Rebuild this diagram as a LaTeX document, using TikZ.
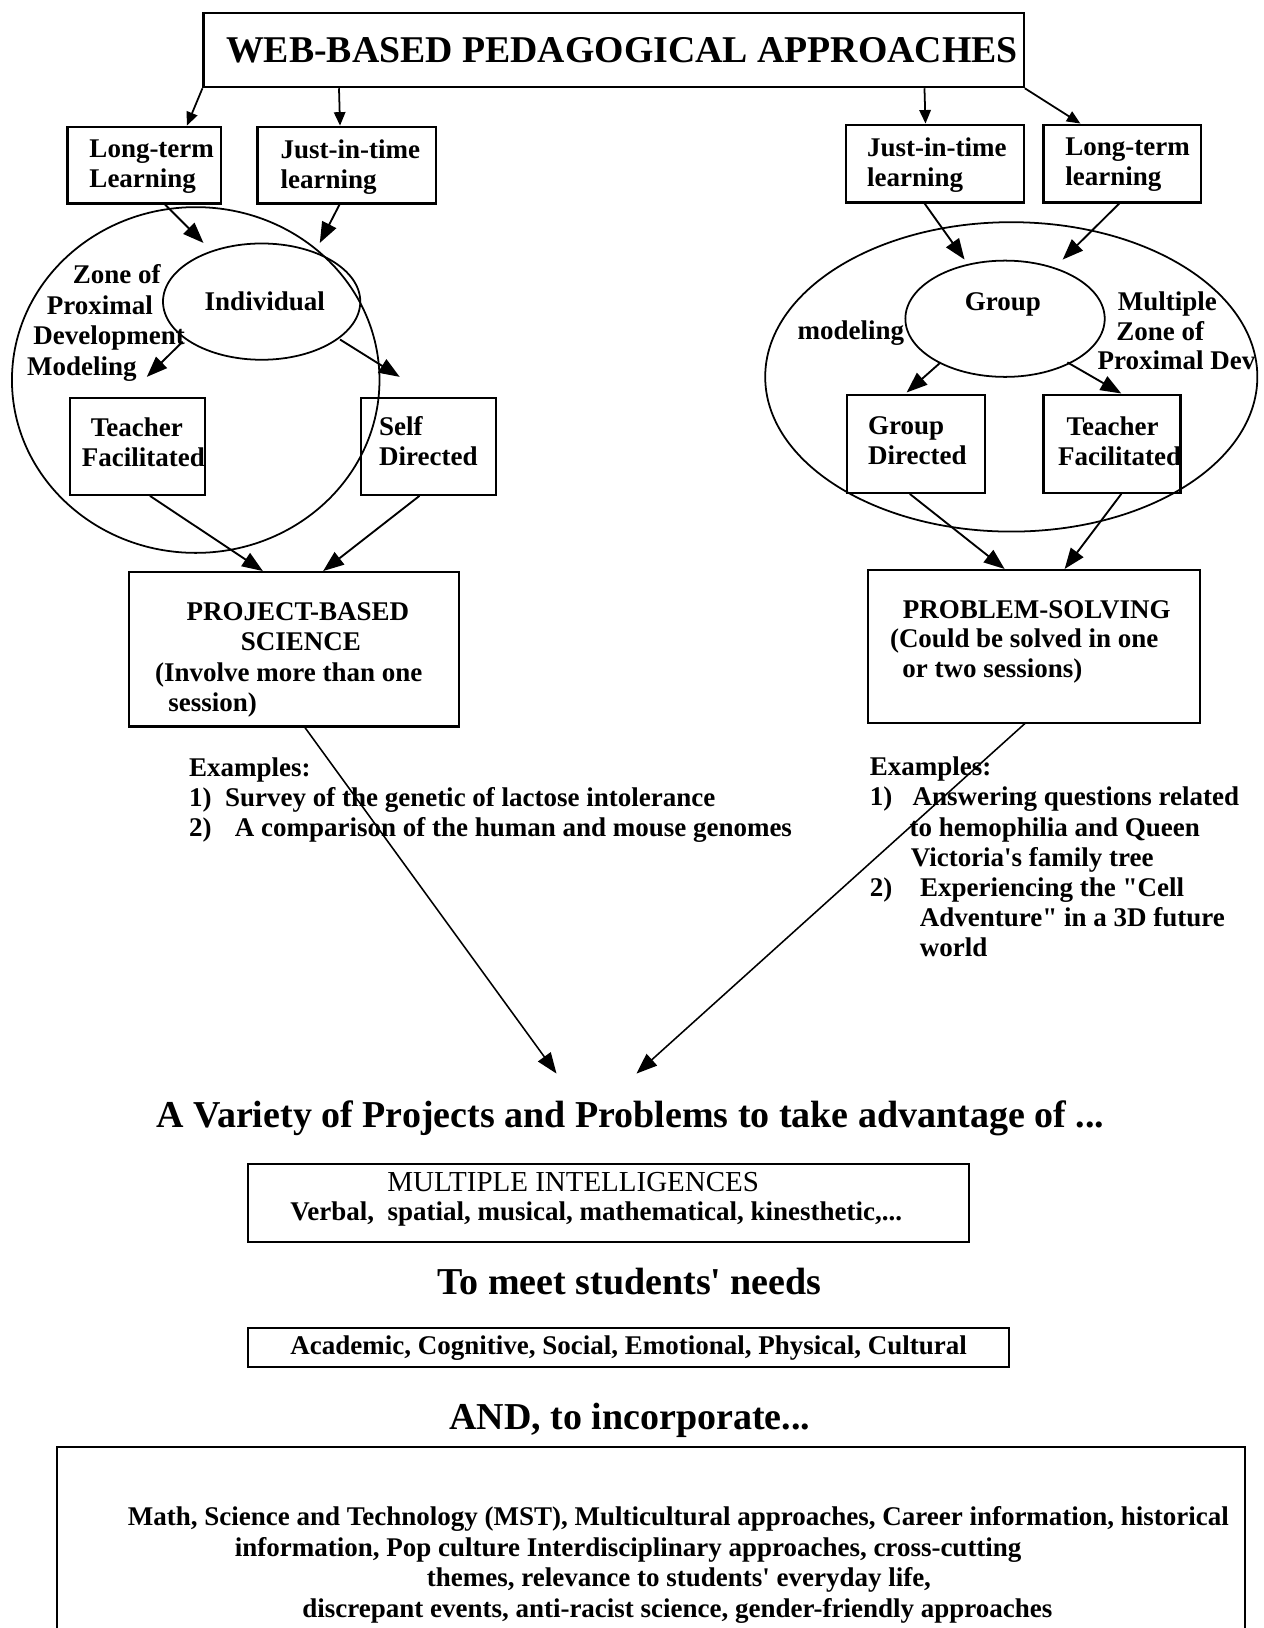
\documentclass[tikz,border=0pt]{standalone}
\usepackage{fontspec}
\setmainfont{Liberation Serif}
\usetikzlibrary{arrows.meta,shapes.geometric,calc}
\newcommand{\sq}{\textquotesingle}
\newcommand{\dq}{\textquotedbl}
\begin{document}
\begin{tikzpicture}[x=1pt,y=-1pt,
  box/.style={draw, line width=2pt, rectangle, inner sep=0pt},
  oval/.style={draw, line width=1.7pt, ellipse, inner sep=0pt},
  body/.style={font=\fontsize{26}{29.3}\selectfont\bfseries},
  txt/.style={body, inner sep=0pt, anchor=north west, align=left},
  head/.style={font=\fontsize{36.6}{40}\selectfont\bfseries, inner sep=0pt},
  arr/.style={line width=1.8pt, -{Triangle[length=20pt,width=15pt]}},
  tarr/.style={line width=1.7pt, -{Triangle[length=13pt,width=11pt]}}]
\useasboundingbox (0,0) rectangle (1217,1568);
\fill[white] (0,0) rectangle (1217,1568);

% title
\node[box, minimum width=790pt, minimum height=71.5pt,
      font=\fontsize{36.4}{40}\selectfont\bfseries] (title) at (591,48.25)
      {\hspace*{16pt}WEB-BASED PEDAGOGICAL APPROACHES};

% top boxes
\node[box, minimum width=148pt, minimum height=74pt] (ltL) at (139,159) {};
\node[txt] (ltLt) at (86,134) {Long-term\\Learning};
\node[box, minimum width=172pt, minimum height=74pt] (jitL) at (334,159) {};
\node[txt] (jitLt) at (270,134) {Just-in-time\\learning};
\node[box, minimum width=171pt, minimum height=75pt] (jitR) at (900.5,157.5) {};
\node[txt] (jitRt) at (835,132.5) {Just-in-time\\learning};
\node[box, minimum width=152pt, minimum height=75pt] (ltR) at (1081,157.5) {};
\node[txt] (ltRt) at (1026,132.5) {Long-term\\learning};

% left cluster
\node[oval, minimum width=354pt, minimum height=333pt] (bigL) at (188.5,366) {};
\node[oval, body, minimum width=190pt, minimum height=112pt] (ind) at (252,290.5) {\hspace*{6pt}Individual};
\node[txt] (zone) at (26,255) {\hspace*{44pt}Zone of\\\hspace*{19pt}Proximal\\\hspace*{6pt}Development\\Modeling};
\node[box, minimum width=130pt, minimum height=93.6pt] (tfL) at (132.4,429.8) {};
\node[txt] (tfLt) at (78.7,402) {\hspace*{8.6pt}Teacher\\Facilitated};
\node[box, minimum width=130pt, minimum height=93.6pt] (sdL) at (413,429.8) {};
\node[txt] (sdLt) at (365,401) {Self\\Directed};
\node[box, minimum width=317.6pt, minimum height=148.7pt] (pbs) at (283.2,625.35) {};
\node[txt] (pbst) at (149.2,580) {\hspace*{30.4pt}PROJECT-BASED\\\hspace*{82.6pt}SCIENCE\\(Involve more than one\\\hspace*{12.8pt}session)};
\node[txt, font=\fontsize{26}{28.7}\selectfont\bfseries] (exL) at (182,729.8)
  {Examples:\\\makebox[34.6pt][l]{1)}Survey of the genetic of lactose intolerance\\\makebox[44pt][l]{2)}A comparison of the human and mouse genomes};

% right cluster
\node[oval, minimum width=474pt, minimum height=298pt] (bigR) at (974,363) {};
\node[oval, minimum width=192pt, minimum height=112pt] (grp) at (968,307) {};
\node[body, inner sep=0pt] (grpt) at (966,293) {Group};
\node[txt] (modt) at (768,309) {modeling};
\node[txt, font=\fontsize{26}{28.75}\selectfont\bfseries] (multt) at (1057,280.5) {\hspace*{19.5pt}Multiple\\\hspace*{18pt}Zone of\\Proximal Dev};
\node[box, minimum width=133.5pt, minimum height=94.7pt] (gdR) at (882.25,427.35) {};
\node[txt] (gdRt) at (836,400.8) {Group\\Directed};
\node[box, minimum width=132pt, minimum height=94.7pt] (tfR) at (1071,427.35) {};
\node[txt] (tfRt) at (1019,400.8) {\hspace*{8pt}Teacher\\Facilitated};
\node[box, minimum width=320pt, minimum height=147pt] (ps) at (996,622.5) {};
\node[txt, font=\fontsize{26}{28.5}\selectfont\bfseries] (pst) at (857,578) {\hspace*{12.5pt}PROBLEM-SOLVING\\(Could be solved in one\\\hspace*{12pt}or two sessions)};
\node[txt, font=\fontsize{26}{29}\selectfont\bfseries] (exR) at (837.6,729)
  {Examples:\\\makebox[41.2pt][l]{1)}Answering questions related\\\hspace*{38.4pt}to hemophilia and Queen\\\hspace*{39.4pt}Victoria\sq s family tree\\\makebox[48.4pt][l]{2)}Experiencing the \dq Cell\\\hspace*{48.2pt}Adventure\dq\ in a 3D future\\\hspace*{48.2pt}world};

% lower part
\node[head] (variety) at (607,1077.5) {A Variety of Projects and Problems to take advantage of ...};
\node[box, minimum width=694pt, minimum height=75pt] (mi) at (586,1159) {};
\node[font=\fontsize{27.9}{30}\selectfont, inner sep=0pt, anchor=west] (mit) at (373,1138.5) {MULTIPLE INTELLIGENCES};
\node[txt] (mil) at (279.5,1157.7) {Verbal,\ \ spatial, musical, mathematical, kinesthetic,...};
\node[head] (needs) at (606.5,1234) {To meet students\sq\ needs};
\node[box, body, minimum width=733pt, minimum height=38pt] (acad) at (605.5,1298) {Academic, Cognitive, Social, Emotional, Physical, Cultural};
\node[head] (incorp) at (606.5,1368) {AND, to incorporate...};
\node[box, minimum width=1144.4pt, minimum height=190pt] (topics) at (626.8,1489) {};
\node[txt] (topicst) at (123,1451) {Math, Science and Technology (MST), Multicultural approaches, Career information, historical\\\hspace*{103pt}information, Pop culture Interdisciplinary approaches, cross-cutting\\\hspace*{288pt}themes, relevance to students\sq\ everyday life,\\\hspace*{168pt}discrepant events, anti-racist science, gender-friendly approaches};

% connectors from title
\draw[tarr] (title.south west) -- ($(ltL.north)+(41,0)$);
\draw[tarr] ($(title.south west)+(131.5,0)$) -- ($(jitL.north)+(-6.5,0)$);
\draw[tarr] ($(title.south west)+(695.4,0)$) -- ($(jitR.north)+(-9.1,0)$);
\draw[tarr] (title.south east) -- ($(ltR.north)+(-40.5,0)$);

% left connectors
\draw[arr] ($(ltL.south)+(20,0)$) -- ($(ind.center)+(-56,-56.5)$);
\draw[arr] ($(jitL.south)+(-7,0)$) -- ($(ind.center)+(56,-56.5)$);
\draw[arr] ($(ind.center)+(-76,38.5)$) -- ($(tfL.north)+(9,-19)$);
\draw[arr] ($(ind.center)+(75.5,36.5)$) -- ($(sdL.north)+(-28,-19)$);
\draw[arr] ($(tfL.south)+(12,0)$) -- ($(pbs.north)+(-30,0)$);
\draw[arr] ($(sdL.south)+(-9,0)$) -- ($(pbs.north)+(28,0)$);

% right connectors
\draw[arr] ($(jitR.south)+(-10,0)$) -- ($(grp.center)+(-39,-57)$);
\draw[arr] ($(ltR.south)+(-3,0)$) -- ($(grp.center)+(55.5,-57)$);
\draw[arr] ($(grp.center)+(-62,42)$) -- ($(gdR.north)+(-9,-1)$);
\draw[arr] ($(grp.center)+(60,42)$) -- ($(tfR.north)+(9,0)$);
\draw[arr] ($(gdR.south)+(-6,0)$) -- ($(ps.north)+(-28.4,0)$);
\draw[arr] ($(tfR.south)+(9,0)$) -- ($(ps.north)+(29.4,0)$);

% long connectors
\coordinate (tipL) at (536,1034);
\coordinate (tipR) at (613,1034);
\draw[arr, line width=1.5pt] ($(pbs.south)+(10.5,0)$) -- (tipL);
\draw[arr, line width=1.5pt] ($(ps.south)+(-9,0)$) -- (tipR);
\end{tikzpicture}
\end{document}
